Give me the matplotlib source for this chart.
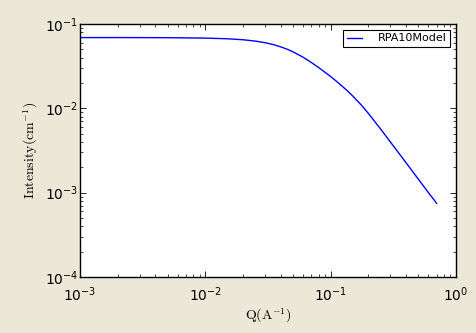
import matplotlib
matplotlib.use('Agg')
import matplotlib.pyplot as plt

# Q values (1/A) and model intensity (1/cm)
q = [0.001, 0.002, 0.005, 0.01, 0.015, 0.02, 0.025, 0.03, 0.035, 0.04, 0.045,
     0.05, 0.06, 0.07, 0.08, 0.09, 0.1, 0.11, 0.12, 0.135, 0.15, 0.175, 0.2,
     0.25, 0.3, 0.4, 0.5, 0.6, 0.7]
intensity = [0.0690, 0.0690, 0.0688, 0.0680, 0.0668, 0.0650, 0.0627, 0.0600,
             0.0569, 0.0535, 0.0502, 0.0468, 0.0405, 0.0350, 0.0305, 0.0268,
             0.0238, 0.0212, 0.0190, 0.0163, 0.0140, 0.0110, 0.0087,
             0.0057, 0.00398, 0.00226, 0.00145, 0.00101, 0.00075]
series_label = 'RPA10Model'

plt.rcParams['mathtext.fontset'] = 'cm'

fig = plt.figure(figsize=(4.76, 3.33), dpi=100, facecolor='#ebe8d8')
ax = fig.add_axes([0.168, 0.168, 0.79, 0.76])

ax.plot(q, intensity, color='#0000ff', linewidth=1.0, label=series_label)
ax.set_xscale('log')
ax.set_yscale('log')
ax.set_xlim(1e-3, 1)
ax.set_ylim(1e-4, 1e-1)

ax.set_xlabel(r'$\mathrm{Q(A^{-1})}$', fontsize=10, labelpad=2)
ax.set_ylabel(r'$\mathrm{Intensity(cm^{-1})}$', fontsize=10)

# old-style ticks: inside, on every side
ax.tick_params(which='both', direction='in', top=True, right=True,
               labelsize=10)
ax.tick_params(axis='x', which='both', pad=6)
ax.tick_params(axis='y', which='both', pad=1)
ax.tick_params(which='major', length=4, width=0.6)
ax.tick_params(which='minor', length=2, width=0.5)
for s in ax.spines.values():
    s.set_linewidth(1.0)

leg = ax.legend(loc='upper right', fontsize=8, fancybox=False,
                edgecolor='black', framealpha=1, borderaxespad=0.5,
                handlelength=1.4, handletextpad=1.4, borderpad=0.35)
leg.get_frame().set_linewidth(0.8)

fig.savefig('out.png', dpi=100, facecolor=fig.get_facecolor())
